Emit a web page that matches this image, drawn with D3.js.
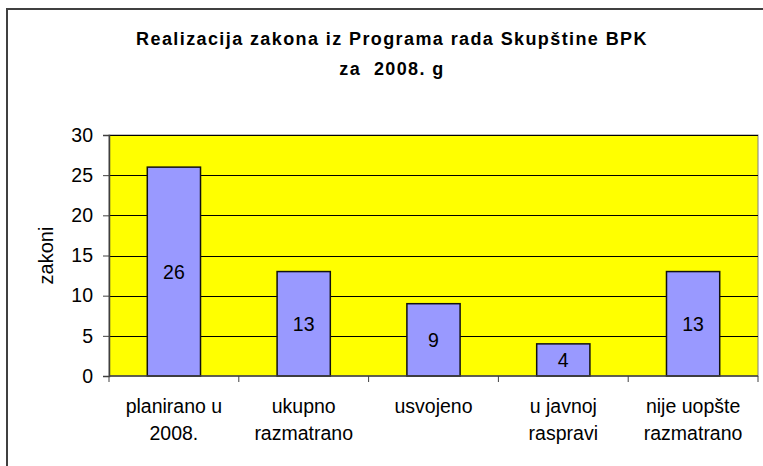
<!DOCTYPE html>
<html>
<head>
<meta charset="utf-8">
<script src="https://cdn.jsdelivr.net/npm/d3@7"></script>
<style>
  html, body { margin: 0; padding: 0; background: #fff; }
  svg { display: block; font-family: "Liberation Sans", Arial, sans-serif; }
</style>
</head>
<body>
<div id="chart"></div>
<script>
// Data
const categories = [
    ["planirano u", "2008."],
    ["ukupno", "razmatrano"],
    ["usvojeno"],
    ["u javnoj", "raspravi"],
    ["nije uopšte", "razmatrano"]
];
const values = [26, 13, 9, 4, 13];
const yTicks = [0, 5, 10, 15, 20, 25, 30];
const titleLines = ["Realizacija zakona iz Programa rada Skupštine BPK", "za  2008. g"];
const yLabel = "zakoni";

const width = 763, height = 466;
const plot = { left: 109, right: 758, top: 135, bottom: 376 };
const fontSize = 19.5;

const svg = d3.select("#chart").append("svg")
    .attr("width", width)
    .attr("height", height);

// Outer chart border (only left/top visible in frame)
svg.append("rect")
    .attr("x", 7).attr("y", 9)
    .attr("width", 800).attr("height", 500)
    .attr("fill", "#fff")
    .attr("stroke", "#404040")
    .attr("stroke-width", 2);

// Scales
const x = d3.scaleBand()
    .domain(d3.range(categories.length))
    .range([plot.left, plot.right])
    .paddingInner(0.59)
    .paddingOuter(0.295);

const xOuter = d3.scaleBand()
    .domain(d3.range(categories.length))
    .range([plot.left, plot.right]);

const y = d3.scaleLinear()
    .domain([0, 30])
    .range([plot.bottom, plot.top]);

// Plot area background
svg.append("rect")
    .attr("x", plot.left).attr("y", plot.top)
    .attr("width", plot.right - plot.left)
    .attr("height", plot.bottom - plot.top)
    .attr("fill", "#ffff00")
    .attr("stroke", "#808080")
    .attr("stroke-width", 1);

// Gridlines
svg.append("g")
    .selectAll("line")
    .data(yTicks.filter(d => d > 0))
    .join("line")
    .attr("x1", plot.left).attr("x2", plot.right)
    .attr("y1", d => Math.round(y(d)) + 0.5)
    .attr("y2", d => Math.round(y(d)) + 0.5)
    .attr("stroke", "#000")
    .attr("stroke-width", 1);

// Bars
svg.append("g")
    .selectAll("rect")
    .data(values)
    .join("rect")
    .attr("x", (d, i) => x(i))
    .attr("y", d => y(d))
    .attr("width", x.bandwidth())
    .attr("height", d => y(0) - y(d))
    .attr("fill", "#9999ff")
    .attr("stroke", "#111")
    .attr("stroke-width", 1.5);

// Value labels
svg.append("g")
    .selectAll("text")
    .data(values)
    .join("text")
    .attr("x", (d, i) => x(i) + x.bandwidth() / 2)
    .attr("y", d => (y(d) + y(0)) / 2)
    .attr("dy", "0.36em")
    .attr("text-anchor", "middle")
    .attr("font-size", fontSize)
    .attr("fill", "#000")
    .text(d => d);

// Y axis
const yAxis = svg.append("g")
    .attr("transform", `translate(${plot.left},0)`)
    .call(d3.axisLeft(y).tickValues(yTicks).tickSize(6).tickPadding(10));
yAxis.select(".domain").attr("stroke", "#404040").attr("stroke-width", 1.5);
yAxis.selectAll(".tick line").attr("stroke", "#404040");
yAxis.selectAll("text")
    .attr("font-size", fontSize)
    .attr("font-family", "Liberation Sans, Arial, sans-serif")
    .attr("fill", "#000");

// X axis (category separators)
const xAxis = svg.append("g")
    .attr("transform", `translate(0,${plot.bottom})`);
xAxis.append("line")
    .attr("x1", plot.left).attr("x2", plot.right)
    .attr("y1", 0).attr("y2", 0)
    .attr("stroke", "#404040").attr("stroke-width", 1.5);
xAxis.selectAll("line.sep")
    .data(d3.range(categories.length + 1))
    .join("line")
    .attr("class", "sep")
    .attr("x1", i => i < categories.length ? xOuter(i) : plot.right)
    .attr("x2", i => i < categories.length ? xOuter(i) : plot.right)
    .attr("y1", 0).attr("y2", 6)
    .attr("stroke", "#404040");

// Category labels
const catLabels = svg.append("g")
    .selectAll("text")
    .data(categories)
    .join("text")
    .attr("x", (d, i) => xOuter(i) + xOuter.bandwidth() / 2)
    .attr("y", 413)
    .attr("text-anchor", "middle")
    .attr("font-size", fontSize)
    .attr("fill", "#000");
catLabels.selectAll("tspan")
    .data(d => d)
    .join("tspan")
    .attr("x", function () { return d3.select(this.parentNode).attr("x"); })
    .attr("dy", (d, i) => i === 0 ? 0 : 27)
    .text(d => d);

// Y axis title
svg.append("text")
    .attr("transform", `translate(53,${(plot.top + plot.bottom) / 2}) rotate(-90)`)
    .attr("text-anchor", "middle")
    .attr("font-size", 20)
    .attr("fill", "#000")
    .text(yLabel);

// Chart title
svg.append("g")
    .selectAll("text")
    .data(titleLines)
    .join("text")
    .attr("x", 392)
    .attr("y", (d, i) => 45 + i * 30)
    .attr("text-anchor", "middle")
    .attr("font-size", 18)
    .attr("font-weight", "bold")
    .attr("letter-spacing", 1.4)
    .attr("fill", "#000")
    .style("white-space", "pre")
    .text(d => d);
</script>
</body>
</html>
